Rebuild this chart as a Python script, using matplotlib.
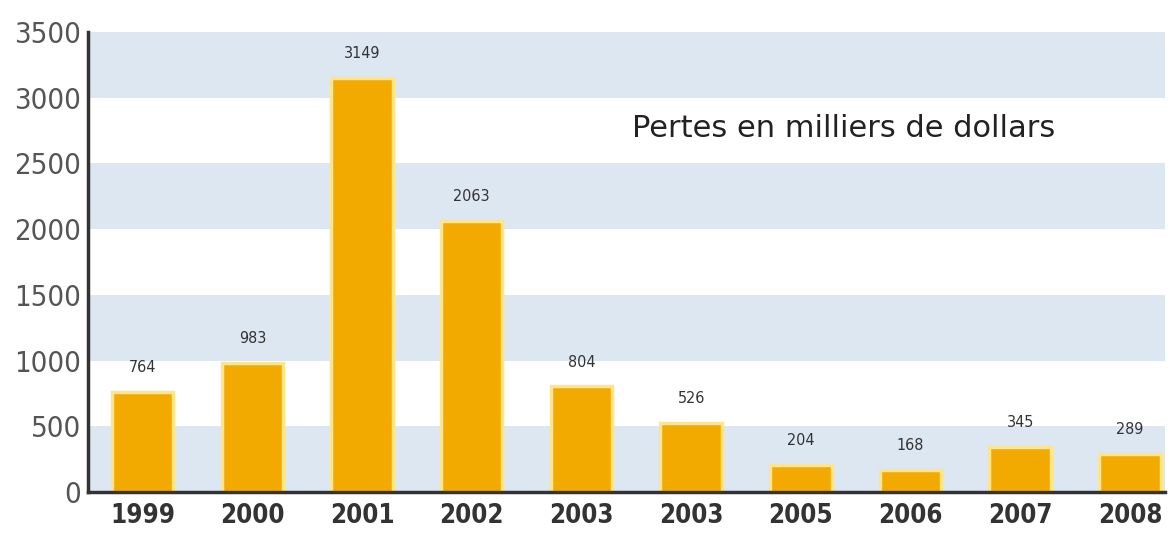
import matplotlib.pyplot as plt
from matplotlib import font_manager

years = ['1999', '2000', '2001', '2002', '2003', '2003', '2005', '2006', '2007', '2008']
pertes = [764, 983, 3149, 2063, 804, 526, 204, 168, 345, 289]
y_ticks = [0, 500, 1000, 1500, 2000, 2500, 3000, 3500]

# police étroite si dispo
cond = [f for f in font_manager.fontManager.ttflist
        if 'Condensed' in f.fname or 'Narrow' in f.fname]
narrow = cond[0].name if cond else 'DejaVu Sans'
stretch = 'condensed' if cond else 'normal'

fig = plt.figure(figsize=(11.72, 5.33), dpi=100)
ax = fig.add_axes([0.075, 0.077, 0.919, 0.863])

# bandes bleues en fond
for lo in range(0, 3500, 1000):
    ax.axhspan(lo, lo + 500, color='#dde7f2', zorder=0, lw=0)

x = list(range(len(years)))
ax.bar(x, pertes, width=0.56, color='#f2a900', edgecolor='#ffe58a',
       linewidth=2.5, zorder=2)

for xi, v in zip(x, pertes):
    ax.annotate(str(v), (xi, v), xytext=(0, 12), textcoords='offset points',
                ha='center', va='bottom', fontsize=11.5, color='#333333',
                family=narrow, stretch=stretch)

ax.set_xlim(-0.5, 9.32)
ax.set_ylim(0, 3500)
ax.set_xticks(x)
ax.set_xticklabels(years, fontsize=18.5, fontweight='bold', color='#333333',
                   family=narrow, stretch=stretch)
ax.set_yticks(y_ticks)
ax.set_yticklabels([str(t) for t in y_ticks], fontsize=21, color='#555555',
                   family=narrow, stretch=stretch)
ax.tick_params(axis='y', length=0, pad=5)
ax.tick_params(axis='x', length=0, pad=8)

for s in ['top', 'right']:
    ax.spines[s].set_visible(False)
for s in ['left', 'bottom']:
    ax.spines[s].set_linewidth(2.5)
    ax.spines[s].set_color('#333333')

ax.text(0.898, 0.791, 'Pertes en milliers de dollars', transform=ax.transAxes,
        ha='right', va='center', fontsize=22, color='#222222')

fig.savefig('out.png', dpi=100)
